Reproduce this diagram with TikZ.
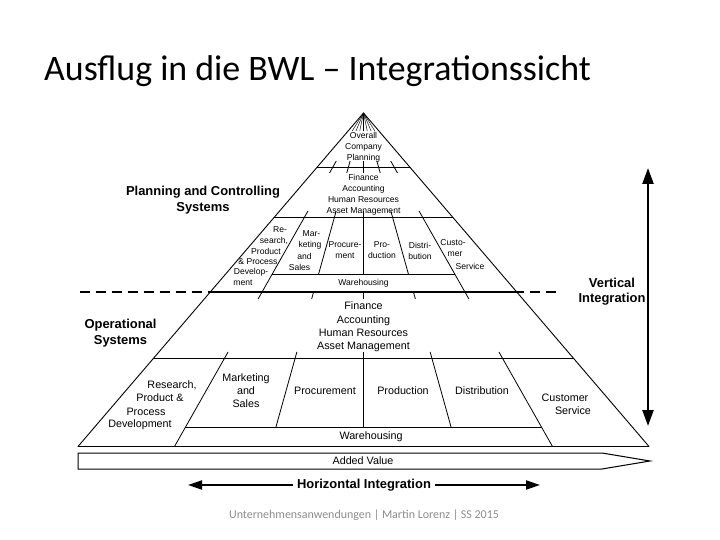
\documentclass[tikz,border=0pt]{standalone}
\usepackage{fontspec}
\setmainfont{Liberation Sans}
\newfontfamily\calib{Carlito}
\usetikzlibrary{arrows.meta}
\begin{document}
\begin{tikzpicture}[x=1bp,y=-1bp,
  sm/.style={font=\fontsize{8.6}{11}\selectfont, inner sep=0pt, align=center},
  md/.style={font=\fontsize{10.8}{13.3}\selectfont, inner sep=0pt, align=center},
  bd/.style={font=\bfseries\fontsize{13}{15.5}\selectfont, inner sep=0pt, align=center},
  edge/.style={line width=0.9bp, line cap=round},
  bigarrow/.style={line width=2.4bp, -{Triangle[length=16bp,width=11bp]}},
  harrow/.style={line width=2bp, -{Triangle[length=14bp,width=9bp]}},
]
\useasboundingbox (0,0) rectangle (720,540);
% title
\node[anchor=base west, inner sep=0pt, font=\calib\fontsize{36}{40}\selectfont] (title) at (44,81) {Ausflug in die BWL – Integrationssicht};
% pyramid outline
\coordinate (apex) at (363.5,113);
\coordinate (lc) at (78,446.5);
\coordinate (rc) at (649,446.5);
\draw[edge] (lc) -- (apex) -- (rc);
\draw[line width=1.3bp] (lc) -- (rc);
% horizontal lines between edges
\foreach \yy/\bb in {167/285.5, 217/285.5, 358.5/285.5, 274/189, 427/189} {
  \pgfmathsetmacro\xa{363.5-\bb/333.5*(\yy-113)}
  \pgfmathsetmacro\xb{363.5+\bb/333.5*(\yy-113)}
  \draw[edge] (\xa,\yy) -- (\xb,\yy);
}
% thick line and dashed extensions
\pgfmathsetmacro\xl{363.5-285.5/333.5*(292-113)}
\pgfmathsetmacro\xr{363.5+285.5/333.5*(292-113)}
\draw[line width=2.2bp] (\xl,292) -- (\xr,292);
\coordinate (dl1) at (80,292);
\coordinate (dl2) at (\xl,292);
\coordinate (dr1) at (\xr,292);
\coordinate (dr2) at (556,292);
\draw[line width=1.8bp, dash pattern=on 10bp off 6bp] (dl1) -- (dl2);
\draw[line width=1.8bp, dash pattern=on 10bp off 6bp] (dr2) -- (dr1);
% rays: segments  b / y-start / y-end
\foreach \bb/\ya/\yb in {
  -189/161/173, -93/161/173, 0/161/173, 93/161/173, 189/161/173,
  -189/211/299, -93/211/274, 0/211/274, 93/211/274, 189/211/299,
  -93/292/299, 0/292/299, 93/292/299,
  -189/352/446.5, -93/352/427, 0/352/427, 93/352/427, 189/352/446.5} {
  \pgfmathsetmacro\xa{363.5+(\bb)/333.5*(\ya-113)}
  \pgfmathsetmacro\xb{363.5+(\bb)/333.5*(\yb-113)}
  \draw[line width=0.8bp] (\xa,\ya) -- (\xb,\yb);
}
% fan near the apex
\foreach \bb in {-210,-140,-70,0,70,140,210} {
  \pgfmathsetmacro\xb{363.5+(\bb)/333.5*18}
  \draw[line width=0.45bp] (apex) -- (\xb,131);
}
% upper texts
\node[sm] (ov) at (363.5,147) {Overall\\Company\\Planning};
\node[sm] (fin1) at (363.5,194.5) {Finance\\Accounting\\Human Resources\\Asset Management};
\node[sm] (r1) at (280,230) {Re-};
\node[sm] (r2) at (274,240.5) {search,};
\node[sm] (r3) at (266,251) {Product};
\node[sm] (r4) at (258,261.5) {\& Process};
\node[sm] (r5) at (251,272) {Develop-};
\node[sm] (r6) at (243,283) {ment};
\node[sm] (m1) at (311.5,234) {Mar-};
\node[sm] (m2) at (310,245) {keting};
\node[sm] (m3) at (304.5,256) {and};
\node[sm] (m4) at (299.5,267) {Sales};
\node[sm] (pc1) at (345,250.5) {Procure-\\ment};
\node[sm] (pd1) at (382,250.5) {Pro-\\duction};
\node[sm] (ds1) at (420,250.5) {Distri-\\bution};
\node[sm] (c1) at (453,243) {Custo-};
\node[sm] (c2) at (455,254) {mer};
\node[sm] (c3) at (470,266) {Service};
\node[sm] (wh1) at (363.5,283) {Warehousing};
% operational
\node[md] (fin2) at (363.5,327) {Finance\\Accounting\\Human Resources\\Asset Management};
\node[md] (R1) at (172,385) {Research,};
\node[md] (R2) at (160,398) {Product \&};
\node[md] (R3) at (146,412) {Process};
\node[md] (R4) at (140,425) {Development};
\node[md, font=\fontsize{10.8}{13}\selectfont] (M) at (246,391) {Marketing\\and\\Sales};
\node[md] (PC) at (325,391) {Procurement};
\node[md] (PD) at (403,391) {Production};
\node[md] (DS) at (482,391) {Distribution};
\node[md] (C1) at (565,398) {Customer};
\node[md] (C2) at (573,411) {Service};
\node[md] (wh2) at (371,437) {Warehousing};
% side labels
\node[bd, font=\bfseries\fontsize{13}{16}\selectfont] (pcs) at (203,200) {Planning and Controlling\\Systems};
\node[bd, font=\bfseries\fontsize{13}{16}\selectfont] (ops) at (120.5,333) {Operational\\Systems};
\node[bd, font=\bfseries\fontsize{13}{15}\selectfont] (vi) at (612,291.5) {Vertical\\Integration};
% vertical arrow
\coordinate (vt) at (648,168);
\coordinate (vb) at (648,426);
\coordinate (vm) at (648,297);
\draw[bigarrow] (vm) -- (vt);
\draw[bigarrow] (vm) -- (vb);
% added value
\draw[line width=1bp] (78,453) -- (602,453) -- (650,461) -- (602,469) -- (78,469) -- cycle;
\node[md] (av) at (363,461) {Added Value};
% horizontal integration
\node[bd, inner sep=4bp] (hi) at (364,485) {Horizontal Integration};
\coordinate (hl) at (188,485);
\coordinate (hr) at (540,485);
\draw[harrow] (hi.west) -- (hl);
\draw[harrow] (hi.east) -- (hr);
% footer
\node[font=\calib\fontsize{12}{14}\selectfont, text=black!45, inner sep=0pt] (foot) at (364,515) {Unternehmensanwendungen | Martin Lorenz | SS 2015};
\end{tikzpicture}
\end{document}
